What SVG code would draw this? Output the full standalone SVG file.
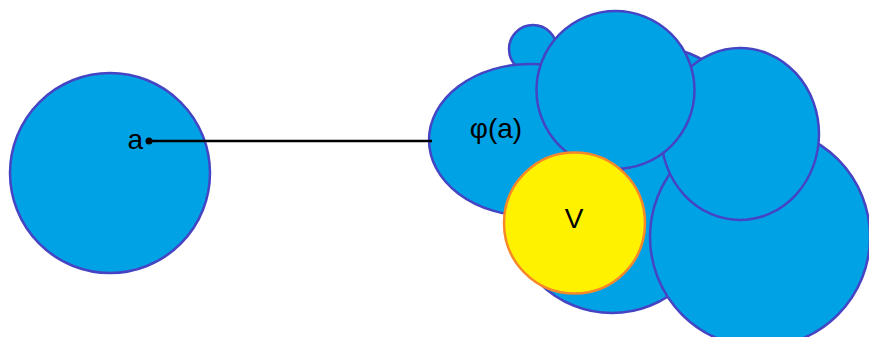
<svg xmlns="http://www.w3.org/2000/svg" width="869" height="337" viewBox="0 0 869 337">
<style>
.blob{fill:#00a2e6;stroke:#4444c4;stroke-width:2.5}
.v{fill:#fff200;stroke:#f7882a;stroke-width:2.5}
.lbl{font-family:"Liberation Sans",Arial,sans-serif;font-size:28px;fill:#000}
</style>
<rect width="869" height="337" fill="#fff"/>
<g id="node-a">
<circle class="blob" cx="110" cy="173" r="100"/>
<text class="lbl" x="143" y="149" text-anchor="end">a</text>
</g>
<g id="node-cluster">
<circle class="blob" cx="533" cy="49" r="24"/>
<circle class="blob" cx="660" cy="130" r="82"/>
<circle class="blob" cx="612" cy="210" r="103"/>
<ellipse class="blob" cx="530" cy="140" rx="101" ry="76"/>
<circle class="blob" cx="760" cy="237" r="110"/>
<ellipse class="blob" cx="740" cy="134" rx="79" ry="86"/>
<circle class="blob" cx="615.5" cy="90" r="79"/>
<text class="lbl" x="496" y="138" text-anchor="middle">φ(a)</text>
</g>
<g id="node-V">
<circle class="v" cx="574.5" cy="223" r="70.5"/>
<text class="lbl" x="574" y="228" text-anchor="middle">V</text>
</g>
<g id="connectors">
<line x1="149" y1="141" x2="432" y2="141" stroke="#000" stroke-width="2.5"/>
<circle cx="149" cy="141" r="3.5" fill="#000"/>
</g>
</svg>
